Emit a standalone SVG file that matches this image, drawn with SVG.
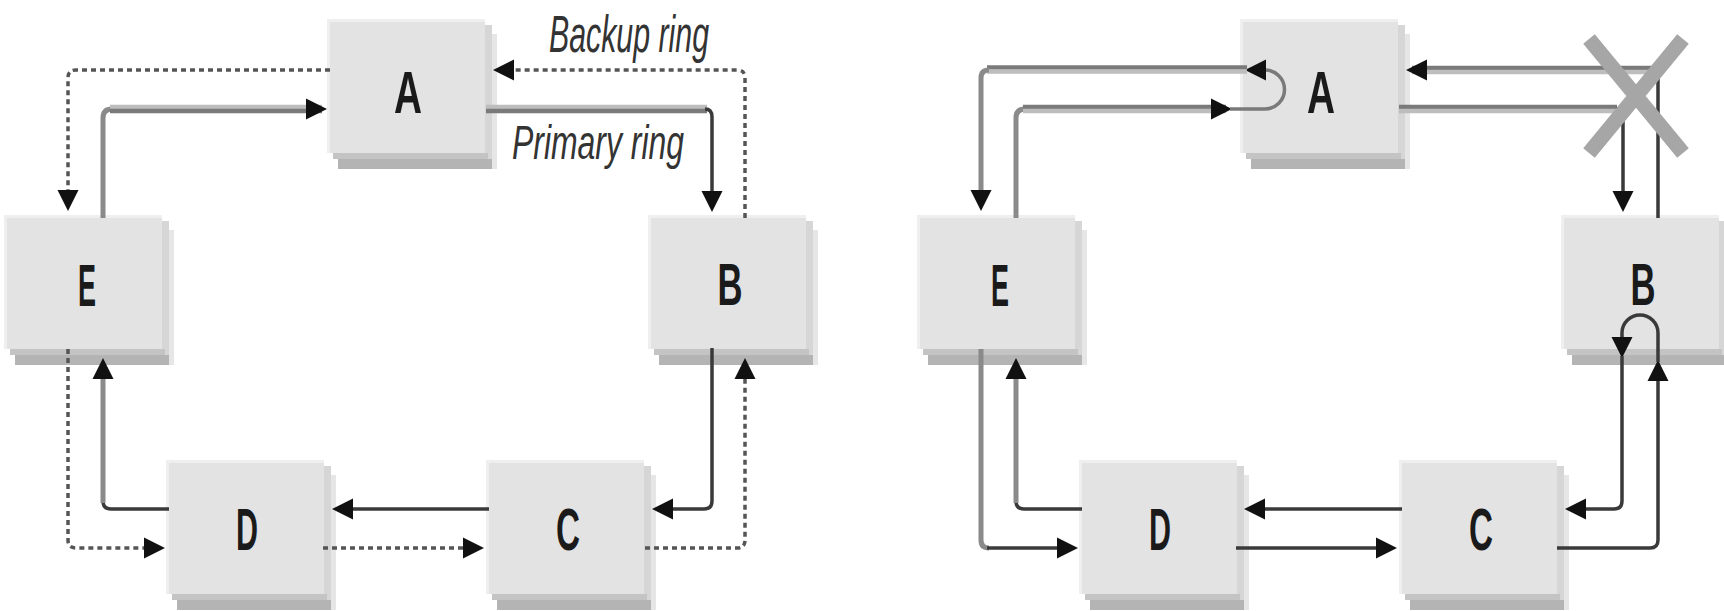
<svg xmlns="http://www.w3.org/2000/svg" xmlns:xlink="http://www.w3.org/1999/xlink" width="1724" height="611" viewBox="0 0 1724 611">
<style>
.hl{fill:#efefef}
.bx{fill:#e3e3e3}
.r1{fill:#d6d6d6}
.r2{fill:#e6e6e6}
.b1{fill:#c4c4c4}
.b2{fill:#b4b4b4}
.lbl{font-family:"Liberation Sans",Arial,sans-serif;font-weight:bold;font-size:60px;fill:#1a1a1a;text-anchor:middle}
.cap{font-family:"Liberation Sans",Arial,sans-serif;font-style:italic;fill:#333}
.dk{stroke:#3a3a3a;stroke-width:3.5;fill:none}
.gy{stroke:#8a8a8a;stroke-width:5;fill:none}
.lt{stroke:#bdbdbd;stroke-width:4.5;fill:none}
.md{stroke:#7a7a7a;stroke-width:4.5;fill:none}
.ds{stroke:#555;stroke-width:3.5;stroke-dasharray:5 4;fill:none}
.ah{fill:#111}
.x{stroke:#a6a6a6;stroke-width:15;fill:none}
</style>
<defs>
<path id="ah" d="M0,0 L-21,-10.5 L-21,10.5 Z"/>
<g id="box">
<rect class="hl" x="-3" y="-3" width="158" height="134"/>
<rect class="r1" x="155" y="3" width="7" height="134"/>
<rect class="r2" x="162" y="12" width="5" height="135"/>
<rect class="b2" x="8" y="137" width="154" height="10"/>
<rect class="b1" x="3" y="131" width="155" height="6"/>
<rect class="bx" x="0" y="0" width="155" height="131"/>
</g>
</defs>

<!-- Left diagram nodes -->
<g id="L-A" transform="translate(330,22)"><use xlink:href="#box"/><text class="lbl" x="78" y="91" textLength="28" lengthAdjust="spacingAndGlyphs">A</text></g>
<g id="L-E" transform="translate(7,218)"><use xlink:href="#box"/><text class="lbl" x="80" y="88" textLength="18" lengthAdjust="spacingAndGlyphs">E</text></g>
<g id="L-B" transform="translate(651,218)"><use xlink:href="#box"/><text class="lbl" x="79" y="87" textLength="25" lengthAdjust="spacingAndGlyphs">B</text></g>
<g id="L-D" transform="translate(169,463)"><use xlink:href="#box"/><text class="lbl" x="78" y="87" textLength="22" lengthAdjust="spacingAndGlyphs">D</text></g>
<g id="L-C" transform="translate(489,463)"><use xlink:href="#box"/><text class="lbl" x="79" y="87" textLength="24" lengthAdjust="spacingAndGlyphs">C</text></g>

<!-- Right diagram nodes -->
<g id="R-A" transform="translate(1243,22)"><use xlink:href="#box"/><text class="lbl" x="78" y="91" textLength="28" lengthAdjust="spacingAndGlyphs">A</text></g>
<g id="R-E" transform="translate(920,218)"><use xlink:href="#box"/><text class="lbl" x="80" y="88" textLength="18" lengthAdjust="spacingAndGlyphs">E</text></g>
<g id="R-B" transform="translate(1564,218)"><use xlink:href="#box"/><text class="lbl" x="79" y="87" textLength="25" lengthAdjust="spacingAndGlyphs">B</text></g>
<g id="R-D" transform="translate(1082,463)"><use xlink:href="#box"/><text class="lbl" x="78" y="87" textLength="22" lengthAdjust="spacingAndGlyphs">D</text></g>
<g id="R-C" transform="translate(1402,463)"><use xlink:href="#box"/><text class="lbl" x="79" y="87" textLength="24" lengthAdjust="spacingAndGlyphs">C</text></g>

<!-- Labels -->
<g id="labels">
<text class="cap" x="549" y="52" font-size="52" textLength="160" lengthAdjust="spacingAndGlyphs">Backup ring</text>
<text class="cap" x="512" y="159" font-size="48" textLength="172" lengthAdjust="spacingAndGlyphs">Primary ring</text>
</g>

<g id="connectors">
<!-- Left primary ring -->
<path class="gy" d="M103,218 V118 Q103,109 112,109"/>
<path class="lt" d="M110,107 H322"/>
<path class="md" d="M110,111 H322"/>
<use xlink:href="#ah" class="ah" transform="translate(327,109)"/>

<path class="lt" d="M486,107 H707"/>
<path class="md" d="M486,111 H707"/>
<path class="dk" d="M705,109 Q712,109 712,117 V206"/>
<use xlink:href="#ah" class="ah" transform="translate(712,212) rotate(90)"/>

<path class="dk" d="M712,348 V501 Q712,509 704,509 H660"/>
<use xlink:href="#ah" class="ah" transform="translate(652,509) rotate(180)"/>

<path class="dk" d="M489,509 H340"/>
<use xlink:href="#ah" class="ah" transform="translate(332,509) rotate(180)"/>

<path class="dk" d="M169,509 H111 Q103,509 103,501"/>
<path class="gy" d="M103,503 V366"/>
<use xlink:href="#ah" class="ah" transform="translate(103,358) rotate(-90)"/>

<!-- Left backup ring -->
<path class="ds" d="M745,218 V78 Q745,70 737,70 H500"/>
<use xlink:href="#ah" class="ah" transform="translate(493,70) rotate(180)"/>
<path class="ds" d="M330,70 H76 Q68,70 68,78 V205"/>
<use xlink:href="#ah" class="ah" transform="translate(68,211) rotate(90)"/>
<path class="ds" d="M68,349 V540 Q68,548 76,548 H158"/>
<use xlink:href="#ah" class="ah" transform="translate(165,548)"/>
<path class="ds" d="M323,548 H476"/>
<use xlink:href="#ah" class="ah" transform="translate(484,548)"/>
<path class="ds" d="M645,548 H737 Q745,548 745,540 V365"/>
<use xlink:href="#ah" class="ah" transform="translate(745,358) rotate(-90)"/>

<!-- Right diagram (wrapped ring) -->
<path class="gy" d="M1016,218 V118 Q1016,109 1025,109"/>
<path class="md" d="M1023,107 H1226"/>
<path class="lt" d="M1023,111 H1226"/>
<use xlink:href="#ah" class="ah" transform="translate(1232,109)"/>
<path stroke="#7a7a7a" stroke-width="3.5" fill="none" d="M1230,109 H1265 A19.5,19.5 0 0 0 1265,70 H1258"/>
<use xlink:href="#ah" class="ah" transform="translate(1245,70) rotate(180)"/>
<path class="md" d="M1247,67.5 H987"/>
<path class="lt" d="M1247,71.5 H987"/>
<path class="gy" d="M989,70 Q981,70 981,78 V205"/>
<use xlink:href="#ah" class="ah" transform="translate(981,211) rotate(90)"/>

<path class="gy" d="M981,349 V540 Q981,548 989,548"/>
<path class="dk" d="M987,548 H1072"/>
<use xlink:href="#ah" class="ah" transform="translate(1078,548)"/>

<path class="dk" d="M1236,548 H1390"/>
<use xlink:href="#ah" class="ah" transform="translate(1397,548)"/>

<path class="dk" d="M1557,548 H1650 Q1658,548 1658,540 V366"/>
<use xlink:href="#ah" class="ah" transform="translate(1658,360) rotate(-90)"/>
<path class="dk" d="M1658,362 V333 A18,18 0 0 0 1622,333 V340"/>
<use xlink:href="#ah" class="ah" transform="translate(1622,358) rotate(90)"/>
<path class="dk" d="M1622,356 V501 Q1622,509 1614,509 H1572"/>
<use xlink:href="#ah" class="ah" transform="translate(1565,509) rotate(180)"/>

<path class="dk" d="M1402,509 H1250"/>
<use xlink:href="#ah" class="ah" transform="translate(1244,509) rotate(180)"/>

<path class="dk" d="M1082,509 H1024 Q1016,509 1016,501"/>
<path class="gy" d="M1016,503 V366"/>
<use xlink:href="#ah" class="ah" transform="translate(1016,358) rotate(-90)"/>

<path class="md" d="M1399,107 H1617"/>
<path class="lt" d="M1399,111 H1617"/>
<path class="dk" d="M1616,109 Q1623,109 1623,117 V206"/>
<use xlink:href="#ah" class="ah" transform="translate(1623,212) rotate(90)"/>

<path class="dk" d="M1658,218 V78 Q1658,70 1650,70"/>
<path class="md" d="M1652,68 H1412"/>
<path class="lt" d="M1652,72 H1412"/>
<use xlink:href="#ah" class="ah" transform="translate(1406,70) rotate(180)"/>
</g>

<g id="break-mark">
<path class="x" d="M1589,39 L1683,153 M1683,39 L1589,153"/>
</g>
</svg>
